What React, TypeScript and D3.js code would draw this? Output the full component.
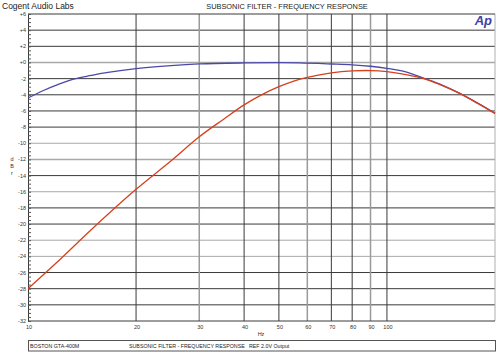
import React, { useEffect, useRef } from "react";
import * as d3 from "d3";

// measured response, Hz / dBr
const blueFreq = [10, 11, 12.1, 13.4, 15, 16.7, 20, 25, 30, 40, 50, 57, 70, 80, 90, 100, 110, 126, 140, 159, 180, 200];
const blueDb = [-4.4, -3.5, -2.75, -2.05, -1.6, -1.22, -0.75, -0.38, -0.18, -0.06, -0.02, -0.05, -0.19, -0.3, -0.47, -0.72, -1.05, -1.9, -2.65, -3.8, -5.1, -6.3];

const redFreq = [10, 12, 15, 20, 25, 30, 35, 40, 45, 50, 55, 60, 70, 80, 90, 100, 110, 126, 140, 159, 180, 200];
const redDb = [-28.0, -24.8, -20.7, -15.7, -12.2, -9.2, -7.05, -5.25, -3.95, -3.0, -2.3, -1.85, -1.3, -1.05, -1.0, -1.13, -1.4, -1.96, -2.7, -3.8, -5.13, -6.3];

const yTicks = [6, 4, 2, 0, -2, -4, -6, -8, -10, -12, -14, -16, -18, -20, -22, -24, -26, -28, -30, -32];
const yTickLabels = ["+6", "+4", "+2", "+0", "-2", "-4", "-6", "-8", "-10", "-12", "-14", "-16", "-18", "-20", "-22", "-24", "-26", "-28", "-30", "-32"];
const xTicks = [10, 20, 30, 40, 50, 60, 70, 80, 90, 100];
const lightH = [0, -10, -12, -16, -22, -24];
const lightV = [30, 60, 90];

const W = 504;
const H = 361;
const font = "'Liberation Sans', Arial, sans-serif";

export default function App() {
  const gRef = useRef<SVGGElement>(null);

  const x = d3.scaleLog().domain([10, 200]).range([28, 495]);
  const y = d3.scaleLinear().domain([-32, 6]).range([321, 14]);

  useEffect(() => {
    if (!gRef.current) return;
    const g = d3.select(gRef.current);
    g.selectAll("*").remove();

    // horizontal grid
    g.append("g")
      .selectAll("line")
      .data(yTicks.filter(t => t !== 6 && t !== -32))
      .enter().append("line")
      .attr("x1", x(10)).attr("x2", x(200))
      .attr("y1", d => y(d)).attr("y2", d => y(d))
      .attr("stroke", d => (lightH.includes(d) ? "#a8a8a8" : "#3a3a3a"))
      .attr("stroke-width", d => (d === -12 || d === 0 ? 1.5 : 1));

    // vertical grid
    g.append("g")
      .selectAll("line")
      .data(xTicks.filter(t => t !== 10))
      .enter().append("line")
      .attr("x1", d => x(d)).attr("x2", d => x(d))
      .attr("y1", y(6)).attr("y2", y(-32))
      .attr("stroke", d => (lightV.includes(d) ? "#9a9a9a" : "#3a3a3a"))
      .attr("stroke-width", d => (lightV.includes(d) ? 1.5 : 1));

    // frame
    g.append("line").attr("x1", x(200)).attr("x2", x(200)).attr("y1", y(6)).attr("y2", y(-32))
      .attr("stroke", "#b0b0b0").attr("stroke-width", 1);
    g.append("line").attr("x1", x(10)).attr("x2", x(200)).attr("y1", y(6)).attr("y2", y(6))
      .attr("stroke", "#3a3a3a");
    g.append("line").attr("x1", x(10)).attr("x2", x(200)).attr("y1", y(-32)).attr("y2", y(-32))
      .attr("stroke", "#3a3a3a");

    // left axis with minor ticks
    const axisG = g.append("g").attr("transform", `translate(${x(10)},0)`);
    axisG.call(
      d3.axisRight(y).tickValues(d3.range(-32, 6.01, 0.5)).tickSize(3).tickFormat(() => "")
    );
    axisG.select(".domain").attr("stroke", "#3a3a3a");
    axisG.selectAll(".tick line").attr("stroke", "#555");

    g.append("g")
      .selectAll("text")
      .data(yTicks)
      .enter().append("text")
      .attr("x", x(10) - 2)
      .attr("y", d => y(d) + 2)
      .attr("text-anchor", "end")
      .attr("font-size", 5.5)
      .attr("font-family", font)
      .attr("fill", "#333")
      .text((d, i) => yTickLabels[i]);

    g.append("g")
      .selectAll("text")
      .data(xTicks)
      .enter().append("text")
      .attr("x", d => x(d) + 1)
      .attr("y", 329)
      .attr("text-anchor", "middle")
      .attr("font-size", 5.5)
      .attr("font-family", font)
      .attr("fill", "#333")
      .text(d => String(d));

    // curves
    const line = (fs: number[], ds: number[]) =>
      d3.line<number>()
        .x((d, i) => x(fs[i]))
        .y(d => y(d))
        .curve(d3.curveCatmullRom.alpha(0.5))(ds);

    g.append("path").attr("d", line(blueFreq, blueDb) || "")
      .attr("fill", "none").attr("stroke", "#4c48a8").attr("stroke-width", 1.3);
    g.append("path").attr("d", line(redFreq, redDb) || "")
      .attr("fill", "none").attr("stroke", "#d8401c").attr("stroke-width", 1.3);
  }, []);

  return (
    <svg width={W} height={H} style={{ position: "absolute", left: 0, top: 0, background: "#fff" }}>
      <text x={2} y={9} fontSize={8.5} fontFamily={font} fill="#222">Cogent Audio Labs</text>
      <text x={287} y={9} fontSize={7.4} fontFamily={font} fill="#222" textAnchor="middle">
        SUBSONIC FILTER -  FREQUENCY RESPONSE
      </text>
      <text x={492} y={25} fontSize={13} fontFamily={font} fontWeight="bold" fontStyle="italic"
        fill="#4040a8" textAnchor="end">Ap</text>
      <g ref={gRef} />
      <g fontSize={5.5} fontFamily={font} fill="#333" textAnchor="middle">
        <text x={12} y={161}>d</text>
        <text x={12} y={168}>B</text>
        <text x={12} y={175}>r</text>
      </g>
      <text x={261} y={336} fontSize={5.5} fontFamily={font} fill="#333" textAnchor="middle">Hz</text>
      <rect x={28.5} y={340.5} width={467} height={10.5} fill="none" stroke="#555" strokeWidth={1} />
      <g fontSize={5.3} fontFamily={font} fill="#222">
        <text x={30} y={348}>BOSTON GTA-400M</text>
        <text x={129} y={348}>SUBSONIC FILTER - FREQUENCY RESPONSE</text>
        <text x={249} y={348}>REF 2.0V Output</text>
      </g>
    </svg>
  );
}
